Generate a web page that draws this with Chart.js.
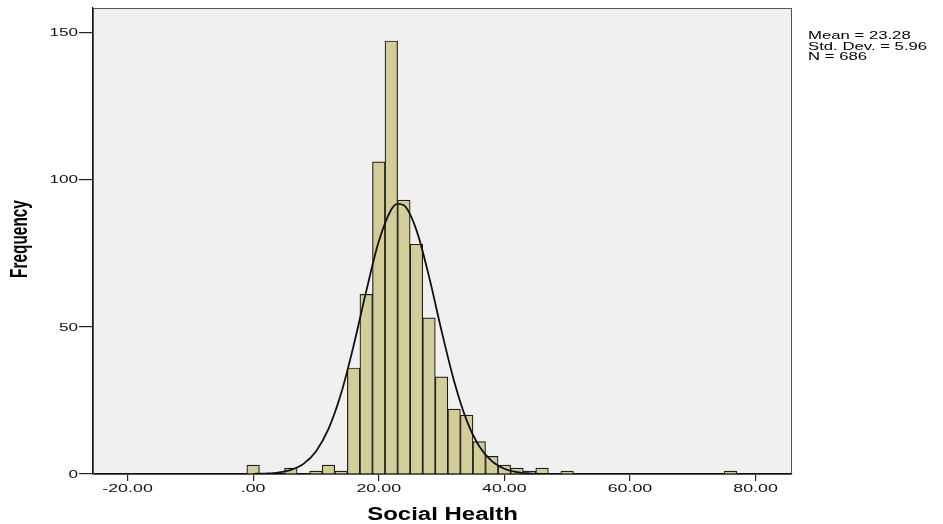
<!DOCTYPE html>
<html lang="en">
<head>
  <meta charset="UTF-8">
  <title>Social Health - histogram</title>
  <style>
    html, body { margin: 0; padding: 0; background: #fff; }
    #chart { display: block; }
  </style>
  <script src="https://cdn.jsdelivr.net/npm/chart.js"></script>
</head>
<body>
  <canvas id="chart" width="943" height="524"></canvas>

  <script>
    // Histogram bins (width 2.00), only the non-empty ones
    var binCenters  = [0, 6, 10, 12, 14, 16, 18, 20, 22, 24, 26, 28, 30, 32, 34, 36, 38, 40, 42, 44, 46, 50, 76];
    var frequencies = [3, 2, 1, 3, 1, 36, 61, 106, 147, 93, 78, 53, 33, 22, 20, 11, 6, 3, 2, 1, 2, 1, 1];

    // Normal curve drawn over the bars
    var curveX = [0, 2, 4, 6, 8, 10, 12, 14, 16, 18, 20, 22, 23, 24, 26, 28, 30, 32, 34, 36, 38, 40, 42, 44, 46, 48];
    var curveY = [0.05, 0.16, 0.49, 1.37, 3.43, 7.67, 15.3, 27.3, 43.6, 62.0, 78.9, 89.8, 91.7, 91.2, 82.8, 67.1, 48.6, 31.5, 18.2, 9.4, 4.35, 1.79, 0.66, 0.22, 0.06, 0.02];

    // Axis ticks
    var xTicks = [-20, 0, 20, 40, 60, 80];
    var xTickLabels = ["-20.00", ".00", "20.00", "40.00", "60.00", "80.00"];
    var yTicks = [0, 50, 100, 150];
    var yTickLabels = ["0", "50", "100", "150"];

    var xTitle = "Social Health";
    var yTitle = "Frequency";
    var statLines = ["Mean = 23.28", "Std. Dev. = 5.96", "N = 686"];

    var FONT = '"Liberation Sans", Arial, sans-serif';

    /* draw text stretched horizontally like the source picture */
    function wideText(ctx, text, x, y, font, sx, align, color) {
      ctx.save();
      ctx.translate(x, y);
      ctx.scale(sx, 1);
      ctx.font = font;
      ctx.textAlign = align;
      ctx.textBaseline = "middle";
      ctx.fillStyle = color;
      ctx.fillText(text, 0, 0);
      ctx.restore();
    }

    var plotFrame = {
      id: "plotFrame",
      beforeDraw: function(chart) {
        var ctx = chart.ctx, a = chart.chartArea;
        ctx.save();
        ctx.fillStyle = "#ffffff";
        ctx.fillRect(0, 0, chart.width, chart.height);
        ctx.fillStyle = "#f0f0f0";
        ctx.fillRect(a.left, a.top, a.right - a.left, a.bottom - a.top);
        ctx.restore();
      },
      afterDraw: function(chart) {
        var ctx = chart.ctx, a = chart.chartArea;
        var xs = chart.scales.x, ys = chart.scales.y;

        ctx.save();
        ctx.strokeStyle = "#555";
        ctx.lineWidth = 1;
        ctx.strokeRect(a.left + 0.5, a.top + 0.5, a.right - a.left - 1, a.bottom - a.top);
        ctx.restore();

        for (var i = 0; i < xTicks.length; i++) {
          wideText(ctx, xTickLabels[i], xs.getPixelForValue(xTicks[i]), 489,
            "11.5px " + FONT, 1.55, "center", "#111");
        }
        for (var j = 0; j < yTicks.length; j++) {
          wideText(ctx, yTickLabels[j], 78, ys.getPixelForValue(yTicks[j]) + 1,
            "10.7px " + FONT, 1.6, "right", "#111");
        }

        wideText(ctx, xTitle, (a.left + a.right) / 2, 515, "bold 17.5px " + FONT, 1.37, "center", "#000");

        ctx.save();
        ctx.translate(21, 239);
        ctx.rotate(-Math.PI / 2);
        ctx.scale(1, 1.5);
        ctx.font = "bold 15.4px " + FONT;
        ctx.textAlign = "center";
        ctx.textBaseline = "middle";
        ctx.fillStyle = "#000";
        ctx.fillText(yTitle, 0, 0);
        ctx.restore();

        for (var k = 0; k < statLines.length; k++) {
          wideText(ctx, statLines[k], 808, 36 + k * 10.5, "11px " + FONT, 1.52, "left", "#000");
        }
      }
    };

    var bars = [];
    for (var b = 0; b < binCenters.length; b++) {
      bars.push({ x: binCenters[b], y: frequencies[b] });
    }
    var curve = [];
    for (var c = 0; c < curveX.length; c++) {
      curve.push({ x: curveX[c], y: curveY[c] });
    }

    new Chart(document.getElementById("chart"), {
      type: "bar",
      data: {
        datasets: [{
          type: "line",
          data: curve,
          borderColor: "#111",
          borderWidth: 1.8,
          pointRadius: 0,
          cubicInterpolationMode: "monotone",
          fill: false,
          order: 0
        }, {
          type: "bar",
          data: bars,
          backgroundColor: "rgb(211, 206, 153)",
          borderColor: "#1e1e1e",
          borderWidth: 1.2,
          borderSkipped: "start",
          barPercentage: 1.0,
          categoryPercentage: 1.0,
          grouped: false,
          order: 1
        }]
      },
      options: {
        responsive: false,
        devicePixelRatio: 1,
        animation: false,
        layout: { padding: { left: 93, right: 151, top: 8, bottom: 50 } },
        plugins: {
          legend: { display: false },
          tooltip: { enabled: false },
          title: { display: false }
        },
        scales: {
          x: {
            type: "linear",
            min: -25.5,
            max: 85.8,
            offset: false,
            afterBuildTicks: function(scale) {
              scale.ticks = xTicks.map(function(v) { return { value: v }; });
            },
            afterFit: function(scale) { scale.height = 0; },
            ticks: { display: false },
            grid: {
              offset: false,
              drawOnChartArea: false,
              drawTicks: true,
              tickLength: 7,
              color: "#222",
              lineWidth: 1.2
            },
            border: { display: true, color: "#111", width: 1.2 }
          },
          y: {
            type: "linear",
            min: 0,
            max: 158.2,
            afterBuildTicks: function(scale) {
              scale.ticks = yTicks.map(function(v) { return { value: v }; });
            },
            afterFit: function(scale) { scale.width = 0; },
            ticks: { display: false },
            grid: {
              drawOnChartArea: false,
              drawTicks: true,
              tickLength: 14,
              color: "#222",
              lineWidth: 1.2
            },
            border: { display: true, color: "#111", width: 1.2 }
          }
        }
      },
      plugins: [plotFrame]
    });
  </script>
</body>
</html>
